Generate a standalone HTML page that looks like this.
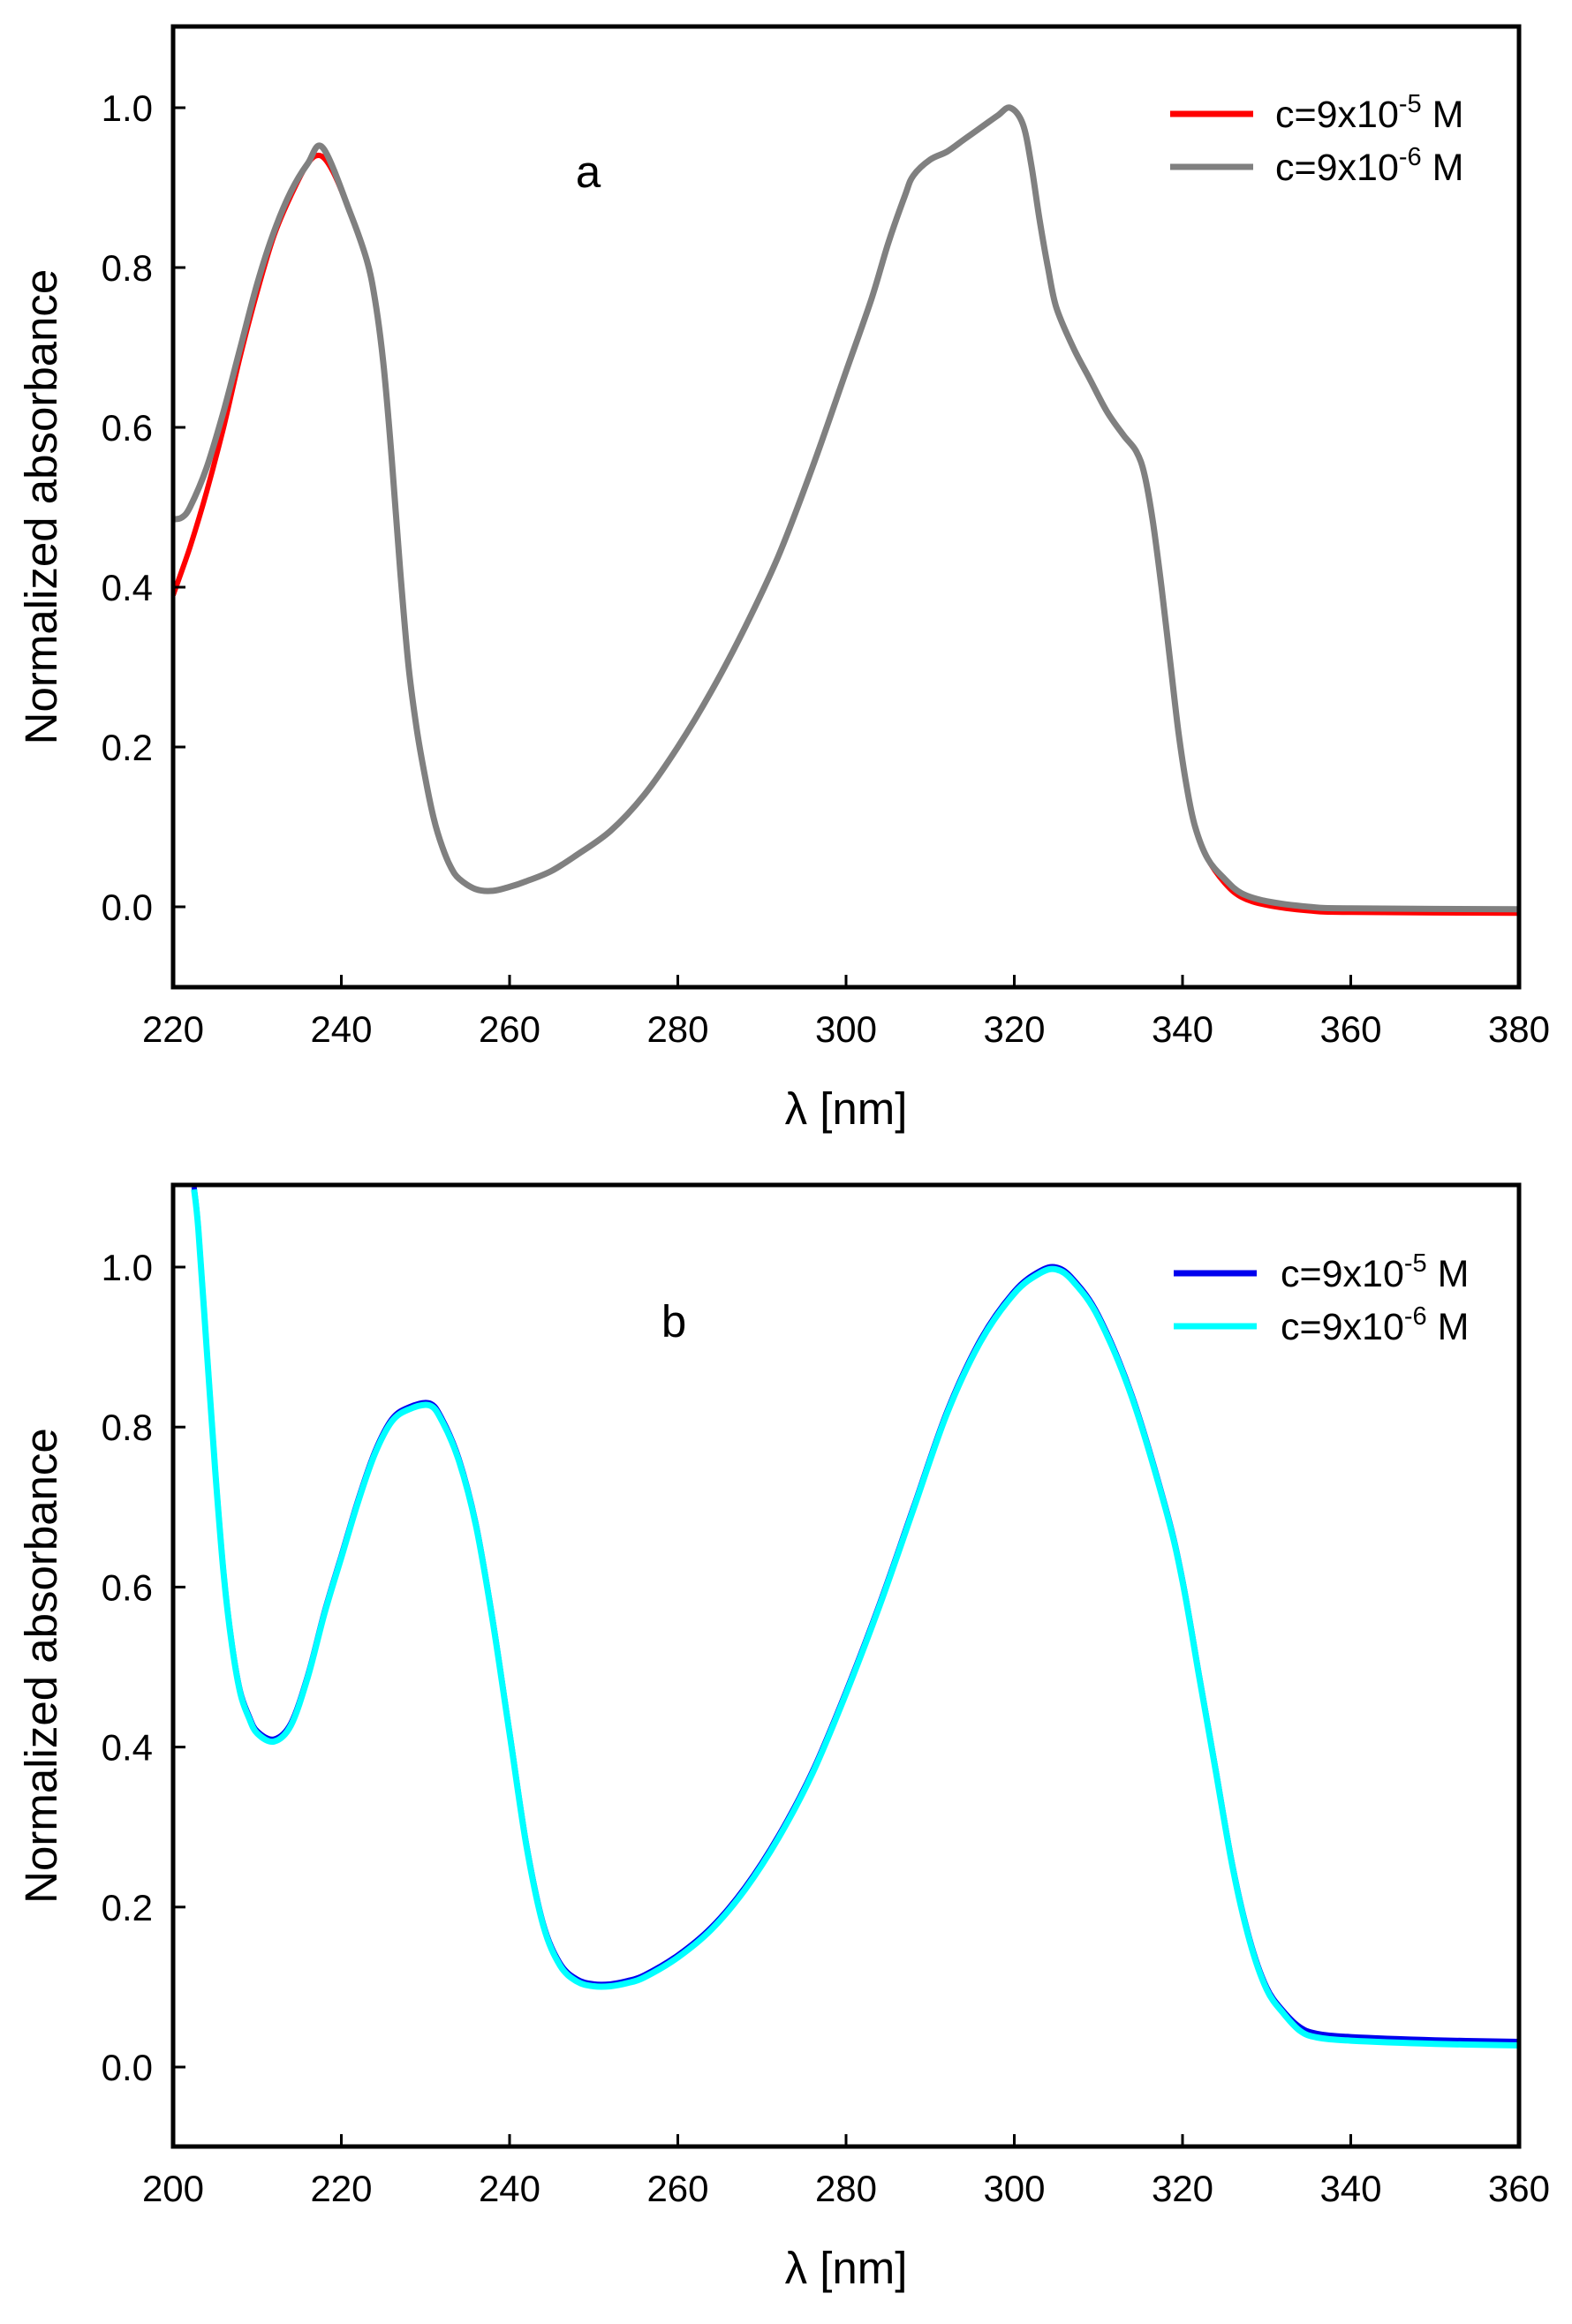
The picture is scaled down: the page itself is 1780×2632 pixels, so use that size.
<!DOCTYPE html>
<html><head><meta charset="utf-8">
<style>
html,body{margin:0;padding:0;background:#fff;}
svg{display:block;}
.t{font-family:"Liberation Sans",sans-serif;font-size:42px;fill:#000;}
.l{font-family:"Liberation Sans",sans-serif;font-size:51px;fill:#000;}
.g{font-family:"Liberation Sans",sans-serif;font-size:43px;fill:#000;}
</style></head><body>
<svg id="s" width="1780" height="2632" viewBox="0 0 1780 2632" xmlns="http://www.w3.org/2000/svg">
<defs>
<clipPath id="ca"><rect x="196" y="30" width="1524" height="1088"/></clipPath>
<clipPath id="cb"><rect x="196" y="1342" width="1524" height="1089"/></clipPath>
</defs>
<g id="root"></g>
</svg>
<script>
var NS="http://www.w3.org/2000/svg",root=document.getElementById('root');
function el(t,a,txt){var e=document.createElementNS(NS,t);for(var k in a)e.setAttribute(k,a[k]);if(txt!==undefined)e.textContent=txt;root.appendChild(e);return e;}
function path(pts,X,Y){var p=pts.map(function(q){return [X(q[0]),Y(q[1])];});
 var d="M"+p[0][0].toFixed(1)+","+p[0][1].toFixed(1);
 for(var i=0;i<p.length-1;i++){var p0=p[i-1]||p[i],p1=p[i],p2=p[i+1],p3=p[i+2]||p2;
  var c1x=p1[0]+(p2[0]-p0[0])/6,c1y=p1[1]+(p2[1]-p0[1])/6,c2x=p2[0]-(p3[0]-p1[0])/6,c2y=p2[1]-(p3[1]-p1[1])/6;
  d+="C"+c1x.toFixed(1)+","+c1y.toFixed(1)+" "+c2x.toFixed(1)+","+c2y.toFixed(1)+" "+p2[0].toFixed(1)+","+p2[1].toFixed(1);}
 return d;}
function panel(top,bot,y0,y1,xmin,clip,series,leg,letter,lx,ly){
 var L=196,R=1720;
 var X=function(v){return L+(v-xmin)*(R-L)/160;};
 var Y=function(v){return y0+(y1-y0)*v;};
 series.forEach(function(s){el('path',{d:path(s.p,X,Y),fill:'none',stroke:s.c,'stroke-width':s.w,'stroke-linejoin':'round','clip-path':'url(#'+clip+')'});});
 el('rect',{x:L,y:top,width:R-L,height:bot-top,fill:'none',stroke:'#000','stroke-width':5});
 for(var i=0;i<=8;i++){var x=L+i*(R-L)/8;el('line',{x1:x,y1:bot,x2:x,y2:bot-14,stroke:'#000','stroke-width':3});
  el('text',{x:x,y:bot+62,'text-anchor':'middle','class':'t'},String(xmin+20*i));}
 for(var j=0;j<=5;j++){var v=j*0.2,y=Y(v);el('line',{x1:L,y1:y,x2:L+14,y2:y,stroke:'#000','stroke-width':3});
  el('text',{x:173,y:y+15,'text-anchor':'end','class':'t'},v.toFixed(1));}
 el('text',{x:958,y:bot+155,'text-anchor':'middle','class':'l'},'λ [nm]');
 el('text',{x:0,y:0,'text-anchor':'middle','class':'l',transform:'translate(64,'+((top+bot)/2)+') rotate(-90)'},'Normalized absorbance');
 el('text',{x:lx,y:ly,'text-anchor':'middle','class':'l'},letter);
 leg.forEach(function(g){el('line',{x1:g.x1,y1:g.y,x2:g.x2,y2:g.y,stroke:g.c,'stroke-width':7});
  var t=el('text',{x:g.tx,y:g.y+15,'class':'g'});
  var a=document.createElementNS(NS,'tspan');a.textContent='c=9x10';t.appendChild(a);
  var b=document.createElementNS(NS,'tspan');b.setAttribute('dy','-17');b.setAttribute('font-size','29');b.textContent=g.e;t.appendChild(b);
  var c=document.createElementNS(NS,'tspan');c.setAttribute('dy','17');c.textContent=' M';t.appendChild(c);});
}
var red=[[220,0.39],[222,0.45],[224,0.52],[226,0.6],[228,0.69],[230,0.77],[232,0.84],[234,0.89],[236,0.93],[237.5,0.94],[239,0.92],[241,0.87],[243,0.81],[244,0.76],[245,0.68],[246,0.56],[247,0.42],[248,0.3],[249,0.22],[250,0.16],[251,0.11],[252,0.075],[253,0.05],[254,0.035],[256,0.022],[258,0.02],[260,0.025],[262,0.032],[265,0.045],[268,0.065],[272,0.095],[276,0.14],[280,0.2],[284,0.27],[288,0.35],[292,0.44],[296,0.55],[300,0.67],[303,0.76],[305,0.83],[307,0.89],[308,0.915],[310,0.935],[312,0.945],[314,0.96],[316,0.975],[318,0.99],[319.5,1.0],[321,0.98],[322,0.93],[323,0.86],[324,0.8],[325,0.75],[327,0.7],[329,0.66],[331,0.62],[333,0.59],[334.5,0.57],[335.5,0.54],[336.5,0.48],[337.5,0.4],[338.5,0.31],[339.5,0.22],[340.5,0.15],[341.5,0.1],[343,0.06],[345,0.03],[347,0.012],[350,0.002],[355,-0.005],[360,-0.007],[380,-0.008]];
var gray=[[220,0.485],[221,0.487],[222,0.5],[224,0.55],[226,0.62],[228,0.7],[230,0.78],[232,0.845],[234,0.895],[236,0.93],[237.8,0.95]].concat(red.filter(function(p){return p[0]>239&&p[0]<345;})).concat([[345,0.035],[347,0.017],[350,0.007],[355,0.0],[360,-0.002],[380,-0.003]]);
var blue=[[202.5,1.1],[203,1.05],[204,0.9],[205,0.75],[206,0.62],[207,0.53],[208,0.47],[209,0.44],[210,0.42],[212,0.41],[214,0.43],[216,0.49],[218,0.57],[220,0.64],[222,0.71],[224,0.77],[226,0.81],[228,0.825],[230.5,0.83],[232,0.81],[234,0.76],[236,0.68],[238,0.56],[240,0.42],[242,0.28],[244,0.18],[246,0.13],[248,0.11],[250,0.104],[252,0.104],[254,0.108],[256,0.115],[260,0.14],[264,0.175],[268,0.225],[272,0.29],[276,0.37],[280,0.47],[284,0.58],[288,0.7],[292,0.82],[296,0.91],[300,0.97],[303,0.995],[305,1.0],[307,0.985],[310,0.94],[314,0.84],[318,0.7],[320,0.61],[322,0.49],[324,0.37],[326,0.25],[328,0.16],[330,0.1],[332,0.07],[334,0.05],[336,0.042],[340,0.038],[350,0.034],[360,0.032]];
var cyan=blue.map(function(p){return [p[0],p[0]>333?p[1]-0.005:p[1]-0.003];});
panel(30,1118,1027,122,220,'ca',[{p:red,c:'#ff0000',w:6},{p:gray,c:'#808080',w:7}],
 [{x1:1325,x2:1419,y:129,c:'#ff0000',tx:1444,e:'-5'},{x1:1325,x2:1419,y:189,c:'#808080',tx:1444,e:'-6'}],'a',666,212);
panel(1342,2431,2341,1435,200,'cb',[{p:blue,c:'#0000ee',w:6},{p:cyan,c:'#00ffff',w:7}],
 [{x1:1329,x2:1423,y:1442,c:'#0000ee',tx:1450,e:'-5'},{x1:1329,x2:1423,y:1502,c:'#00ffff',tx:1450,e:'-6'}],'b',763,1514);
</script>
</body></html>
